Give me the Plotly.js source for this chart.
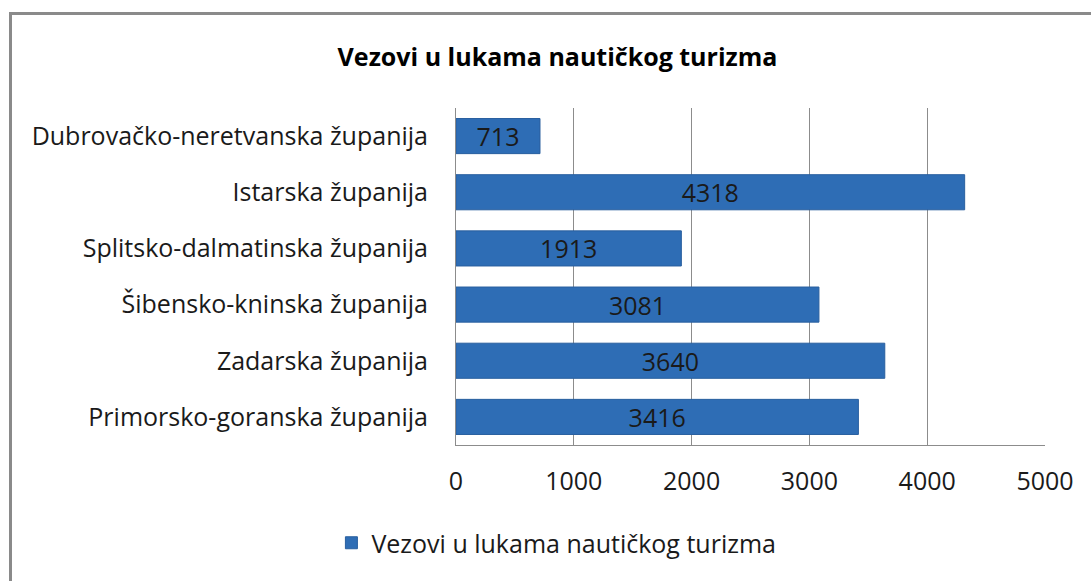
<!DOCTYPE html>
<html>
<head>
<meta charset="utf-8">
<script src="https://cdn.plot.ly/plotly-3.0.1.min.js"></script>
<style>
  html, body { margin: 0; padding: 0; background: #ffffff; }
  #chart { width: 1091px; height: 581px; }
  #frame { position: absolute; left: 9px; top: 12px; width: 1200px; height: 700px;
           border-left: 3px solid #8a8a8a; border-top: 3px solid #8a8a8a; pointer-events: none; }
</style>
</head>
<body>
<div id="chart"></div>
<div id="frame"></div>
<script>
const categories = [
  "Dubrovačko-neretvanska županija",
  "Istarska županija",
  "Splitsko-dalmatinska županija",
  "Šibensko-kninska županija",
  "Zadarska županija",
  "Primorsko-goranska županija"
];
const values = [713, 4318, 1913, 3081, 3640, 3416];
const seriesName = "Vezovi u lukama nautičkog turizma";
const chartTitle = "Vezovi u lukama nautičkog turizma";
const xTicks = [0, 1000, 2000, 3000, 4000, 5000];

const FONT = "Open Sans, Liberation Sans, sans-serif";

const trace = {
  type: "bar",
  orientation: "h",
  y: categories,
  x: values,
  name: seriesName,
  text: values.map(String),
  textposition: "inside",
  insidetextanchor: "middle",
  constraintext: "none",
  textangle: 0,
  textfont: { family: FONT, size: 25, color: "#1a1a1a" },
  marker: { color: "#2e6db5", line: { color: "#295f9f", width: 1 } },
  showlegend: true,
  hoverinfo: "x+y"
};

const layout = {
  width: 1091,
  height: 581,
  margin: { l: 456, r: 46, t: 108, b: 136 },
  paper_bgcolor: "rgba(0,0,0,0)",
  plot_bgcolor: "#ffffff",
  font: { family: FONT, size: 25, color: "#1a1a1a" },
  title: {
    text: "<b>" + chartTitle + "</b>",
    font: { family: FONT, size: 25, color: "#000000" },
    xref: "container", yref: "container",
    x: 0.511, y: 1 - 57 / 581, xanchor: "center", yanchor: "middle"
  },
  bargap: 0.375,
  xaxis: {
    range: [0, 5000],
    tickvals: xTicks,
    ticktext: xTicks.map(String),
    showgrid: true,
    gridcolor: "#8c8c8c",
    gridwidth: 1,
    showline: true,
    linecolor: "#8c8c8c",
    linewidth: 1,
    zeroline: false,
    ticks: "",
    ticklabelstandoff: 14,
    tickfont: { family: FONT, size: 25, color: "#1a1a1a" },
    fixedrange: true
  },
  yaxis: {
    type: "category",
    autorange: "reversed",
    showgrid: false,
    showline: true,
    linecolor: "#8c8c8c",
    linewidth: 1,
    ticks: "",
    ticklabelstandoff: 22,
    tickfont: { family: FONT, size: 25, color: "#1a1a1a" },
    fixedrange: true
  },
  showlegend: true,
  legend: {
    orientation: "h",
    xref: "container", yref: "container",
    x: 0.51, y: 1 - 543 / 581,
    xanchor: "center", yanchor: "middle",
    font: { family: FONT, size: 25, color: "#1a1a1a" },
    itemwidth: 30,
    bgcolor: "rgba(0,0,0,0)"
  }
};

Plotly.newPlot("chart", [trace], layout, { displayModeBar: false, staticPlot: true });
</script>
</body>
</html>
